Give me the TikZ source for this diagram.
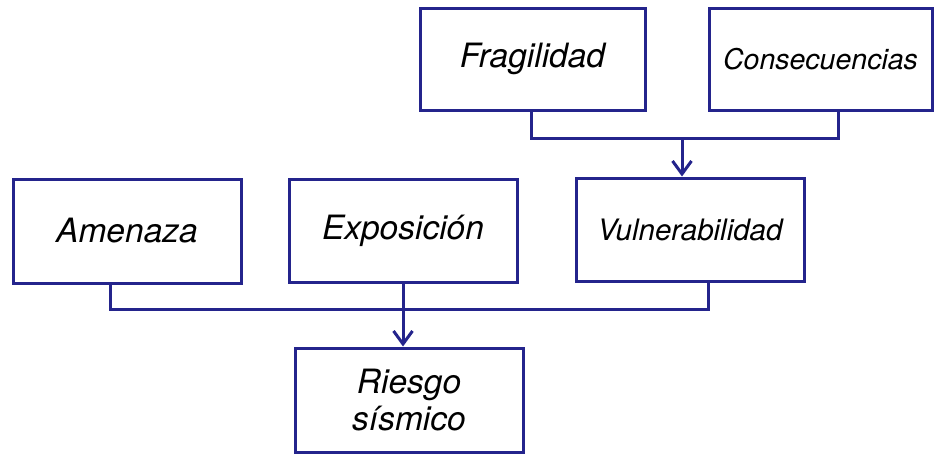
\documentclass[tikz,border=0pt]{standalone}
\usepackage{fontspec}
\setmainfont{TeX Gyre Heros}
\usetikzlibrary{arrows.meta}
\definecolor{lineblue}{RGB}{36,36,140}
\begin{document}
\begin{tikzpicture}[x=1pt,y=-1pt,
  box/.style={draw=lineblue,line width=3pt,rectangle,inner sep=0pt,align=center,
    font=\fontsize{33.5}{37}\selectfont\itshape},
  conn/.style={draw=lineblue,line width=3pt},
  arr/.style={conn,-{Straight Barb[length=13pt,width=19pt,line width=3pt]}}]
\useasboundingbox (0,0) rectangle (947,466);
\node[box,minimum width=225pt,minimum height=102pt] (frag) at (532.5,59) {Fragilidad};
\node[box,minimum width=223pt,minimum height=102pt,font=\fontsize{28.5}{32}\selectfont\itshape] (cons) at (820.5,59) {Consecuencias};
\node[box,minimum width=228pt,minimum height=103pt,font=\fontsize{29.5}{34}\selectfont\itshape] (vuln) at (690,229.5) {Vulnerabilidad};
\node[box,minimum width=228pt,minimum height=104pt] (amen) at (127,231) {Amenaza};
\node[box,minimum width=228pt,minimum height=103pt] (expo) at (403,230.5) {Exposición};
\node[box,minimum width=228pt,minimum height=104pt] (ries) at (409,400) {Riesgo\\sísmico};
\coordinate (jtop) at (682,138);
\coordinate (jbot) at (403,309);
\draw[conn] ([xshift=-1.5pt]frag.south) |- (jtop) -| ([xshift=17.5pt]cons.south);
\draw[arr] (jtop) -- (jtop |- vuln.north);
\draw[conn] ([xshift=-17pt]amen.south) |- (jbot) -| ([xshift=18pt]vuln.south);
\draw[arr] (expo.south) -- (expo.south |- ries.north);
\end{tikzpicture}
\end{document}
